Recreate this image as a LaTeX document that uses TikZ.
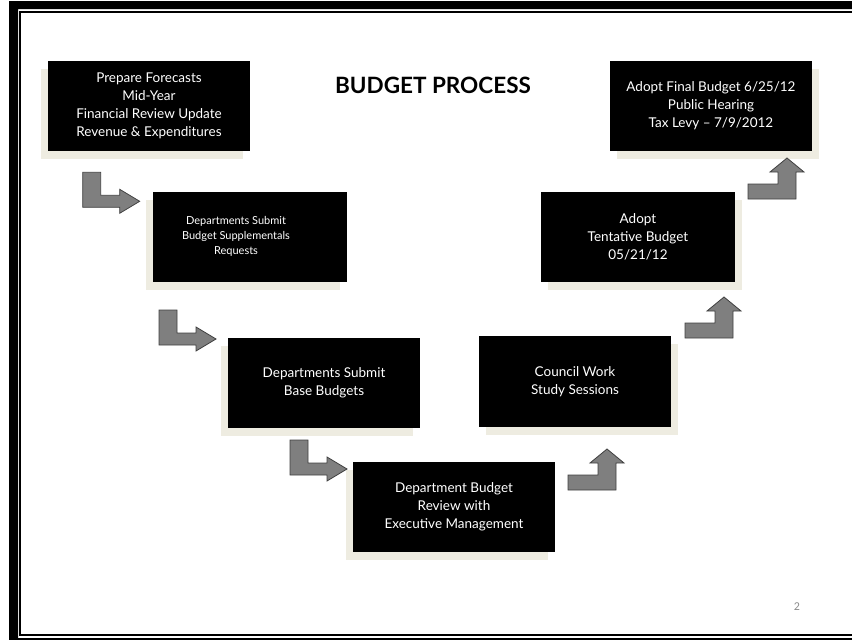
\documentclass[tikz,border=0pt]{standalone}
\usepackage{fontspec}
\setmainfont{Lato}
\newfontfamily\numfont{Carlito}
\usetikzlibrary{shadows}
\definecolor{shadowc}{HTML}{EEECE1}
\definecolor{arrfill}{HTML}{7F7F7F}
\definecolor{arrline}{HTML}{404040}
\definecolor{pagec}{HTML}{8C8C8C}
\begin{document}
\begin{tikzpicture}[x=1pt,y=-1pt,
  stepbox/.style={fill=black, text=white, align=center, inner sep=0pt,
     font=\fontsize{13.5}{18}\selectfont},
  lshadow/.style={drop shadow={shadow xshift=-7pt, shadow yshift=-8pt, fill=shadowc, opacity=1}},
  rshadow/.style={drop shadow={shadow xshift=7pt, shadow yshift=-8pt, fill=shadowc, opacity=1}},
  blockarrow/.style={fill=arrfill, draw=arrline, line width=0.8pt, line join=miter},
  titletext/.style={font=\bfseries\fontsize{22.5}{26}\selectfont},
  pagenum/.style={text=pagec, font=\numfont\fontsize{12}{12}\selectfont}]
\useasboundingbox (0,0) rectangle (852,640);
% frame
\fill[black, even odd rule] (9,1) rectangle (880,660) (18,9) rectangle (870,638);
\draw[line width=2pt] (20,12) rectangle (900,635.3);
% title
\node[titletext] (title) at (433,85.5) {BUDGET PROCESS};
% boxes
\node[stepbox, lshadow, minimum width=202pt, minimum height=90pt] (b1) at (149,106)
  {Prepare Forecasts\\Mid-Year\\Financial Review Update\\Revenue \& Expenditures};
\node[stepbox, lshadow, minimum width=194pt, minimum height=90pt] (b2) at (250,237) {};
\node[text=white, align=center, inner sep=0pt, font=\fontsize{11}{15}\selectfont]
  (b2t) at (236,236) {Departments Submit\\Budget Supplementals\\Requests};
\node[stepbox, lshadow, minimum width=192pt, minimum height=90pt] (b3) at (324,383)
  {Departments Submit\\Base Budgets};
\node[stepbox, lshadow, minimum width=202pt, minimum height=90pt] (b4) at (454,507)
  {Department Budget\\Review with\\Executive Management};
\node[stepbox, rshadow, minimum width=192pt, minimum height=91pt] (b5) at (575,381.5)
  {Council Work\\Study Sessions};
\node[stepbox, rshadow, minimum width=194pt, minimum height=90pt] (b6) at (638,237)
  {Adopt\\Tentative Budget\\05/21/12};
\node[stepbox, rshadow, minimum width=202pt, minimum height=90pt] (b7) at (711,106)
  {Adopt Final Budget 6/25/12\\Public Hearing\\Tax Levy -- 7/9/2012};
% down-right bent arrows
\foreach \ax/\ay in {82.7/172.3, 159/310, 290/440}{
  \draw[blockarrow, shift={(\ax,\ay)}] (0,0) -- (18,0) -- (18,23) -- (37,23) -- (37,17)
    -- (57,29) -- (37,41) -- (37,35) -- (0,35) -- cycle;
}
% bent-up arrows
\foreach \bx/\by in {568/490, 685/338, 748/199}{
  \draw[blockarrow, shift={(\bx,\by)}] (0,0) -- (0,-15) -- (30,-15) -- (30,-27) -- (22,-27)
    -- (39,-41) -- (56,-27) -- (48,-27) -- (48,0) -- cycle;
}
\node[pagenum] (pg) at (797,607) {2};
\end{tikzpicture}
\end{document}
